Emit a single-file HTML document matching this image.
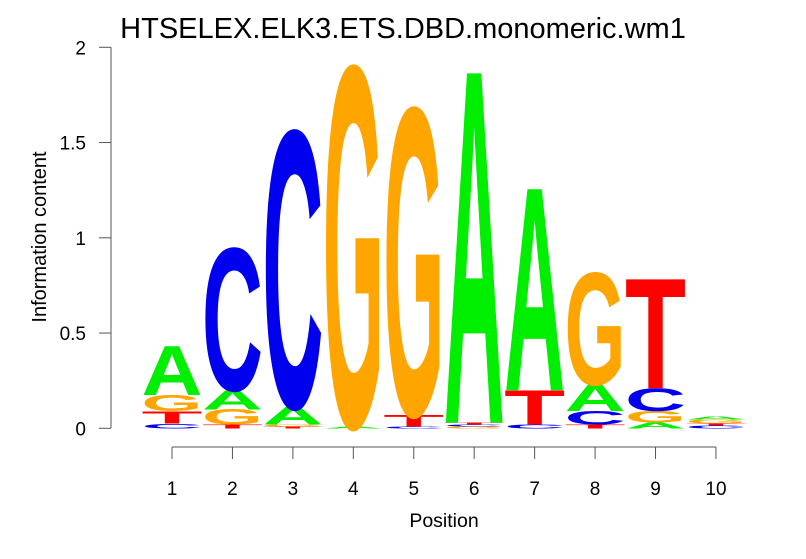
<!DOCTYPE html>
<html><head><meta charset="utf-8"><style>
body{margin:0;background:#fff;}
svg{display:block;font-family:"Liberation Sans",sans-serif;}
</style></head><body>
<svg id="chart" width="806" height="559" viewBox="0 0 806 559">
<text x="403" y="38" font-size="29" text-anchor="middle">HTSELEX.ELK3.ETS.DBD.monomeric.wm1</text>
<text transform="translate(46,237) rotate(-90)" font-size="20" text-anchor="middle">Information content</text>
<text x="444" y="527" font-size="19.5" text-anchor="middle">Position</text>
<g id="axes"></g>
<g id="letters"></g>
</svg>
<script>
// stacks bottom -> top: letters and heights (bits) per position
const positions = [1,2,3,4,5,6,7,8,9,10];
const stackLetters = [
 ["C","T","G","A"],
 ["T","G","A","C"],
 ["T","G","A","C"],
 ["A","G"],
 ["C","T","G"],
 ["G","C","T","A"],
 ["C","T","A"],
 ["T","C","A","G"],
 ["A","G","C","T"],
 ["C","T","G","A"]
];
const stackHeights = [
 [0.025,0.065,0.085,0.26],
 [0.02,0.08,0.1,0.75],
 [0.01,0.01,0.09,1.46],
 [0.01,1.9],
 [0.01,0.06,1.62],
 [0.01,0.01,0.01,1.86],
 [0.02,0.18,1.07],
 [0.02,0.07,0.14,0.59],
 [0.03,0.06,0.12,0.58],
 [0.015,0.01,0.02,0.015]
];
const yTicks = [0,0.5,1,1.5,2];
const yTickLabels = ["0","0.5","1","1.5","2"];
const colors = {A:"#00ee00",C:"#0000ee",G:"#ffa500",T:"#ff0000"};

const NS="http://www.w3.org/2000/svg";
const y0=428.3, yPer=190.5, x1=172, xStep=60.44, letterW=61;
const yScale=v=>y0-v*yPer;
const xScale=p=>x1+(p-1)*xStep;
const axes=document.getElementById('axes');
const lg=document.getElementById('letters');
function mk(tag,attrs,parent){const e=document.createElementNS(NS,tag);for(const k in attrs)e.setAttribute(k,attrs[k]);parent.appendChild(e);return e;}

const yl=mk('line',{x1:111,y1:yScale(0),x2:111,y2:yScale(2),stroke:'#555','stroke-width':1},axes);


yTicks.forEach((t,i)=>{
 const tk=mk('line',{x1:99,x2:111,y1:yScale(t),y2:yScale(t),stroke:'#555'},axes);
 
 
 const tl=mk('text',{x:86,y:yScale(t)+7,'font-size':19,'text-anchor':'end'},axes);
 tl.textContent=yTickLabels[i];
 
 
});
const xl=mk('line',{x1:xScale(positions[0]),x2:xScale(positions[positions.length-1]),y1:447,y2:447,stroke:'#555'},axes);


positions.forEach(p=>{
 const tk=mk('line',{x1:xScale(p),x2:xScale(p),y1:447,y2:459,stroke:'#555'},axes);
 
 
 const tl=mk('text',{x:xScale(p),y:495,'font-size':19,'text-anchor':'middle'},axes);
 tl.textContent=String(p);
 
 
});
const CAP=69.8;
positions.forEach((p,i)=>{
 let base=0;
 stackLetters[i].forEach((L,j)=>{
  const h=stackHeights[i][j];
  const yb=yScale(base), ph=h*yPer;
  base+=h;
  if(ph<0.3)return;
  const g=mk('g',{transform:`translate(${xScale(p)-letterW/2},${yb}) scale(1,${ph/CAP})`},lg);
  const t=mk('text',{x:0,y:0,'font-size':100,'font-weight':'bold',fill:colors[L],textLength:letterW,lengthAdjust:'spacingAndGlyphs'},g);
  t.textContent=L;
  
  
 });
});
</script>
</body></html>
